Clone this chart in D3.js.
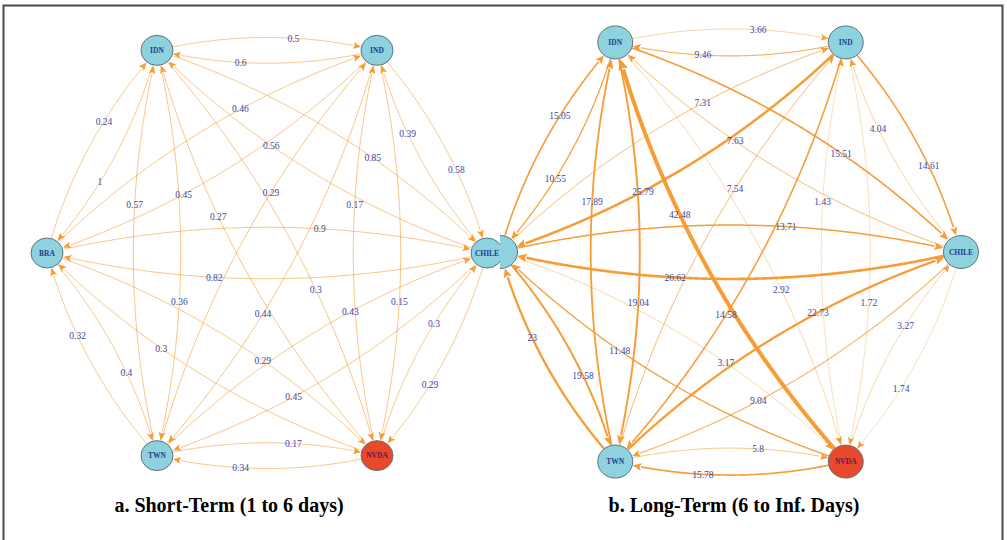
<!DOCTYPE html>
<html>
<head>
<meta charset="utf-8">
<script src="https://cdn.jsdelivr.net/npm/d3@7"></script>
<style>
body{margin:0;background:#fff;}
svg{display:block;}
</style>
</head>
<body>
<svg id="chart" width="1007" height="540"></svg>
<script>
// nodes and their angle on the circle layout (degrees)
const nodeNames = ["CHILE","IND","IDN","BRA","TWN","NVDA"];
const nodeAngles = [0,-60,-120,180,120,60];

// directed edges (from -> to)
const edgeFrom = ["IDN","IND","BRA","IDN","BRA","IND","IDN","CHILE","IDN","NVDA",
                  "IDN","TWN","IND","TWN","IND","NVDA","IND","CHILE","BRA","CHILE",
                  "BRA","NVDA","CHILE","TWN","CHILE","NVDA","TWN","NVDA","BRA","TWN"];
const edgeTo   = ["IND","IDN","IDN","BRA","IND","BRA","CHILE","IDN","NVDA","IDN",
                  "TWN","IDN","TWN","IND","NVDA","IND","CHILE","IND","CHILE","BRA",
                  "NVDA","BRA","TWN","CHILE","NVDA","CHILE","NVDA","TWN","TWN","BRA"];

const shortTermValues = [0.5,0.6,0.24,1,0.46,0.45,0.85,0.56,0.3,0.27,
                         0.36,0.57,0.44,0.29,0.15,0.17,0.58,0.39,0.9,0.82,
                         0.29,0.3,0.45,0.43,0.29,0.3,0.17,0.34,0.4,0.32];
const longTermValues  = [3.66,9.46,15.05,10.55,7.31,25.79,15.51,7.63,2.92,42.48,
                         19.04,17.89,14.58,7.54,1.72,1.43,14.61,4.04,13.71,26.62,
                         3.17,11.48,9.04,22.73,1.74,3.27,5.8,15.78,19.58,23];

const panelTitles = ["a. Short-Term (1 to 6 days)","b. Long-Term (6 to Inf. Days)"];

var svg = d3.select("#chart");

svg.append("defs").append("clipPath").attr("id","clipRight")
  .append("rect").attr("x",500).attr("y",0).attr("width",507).attr("height",540);

var panels = [
  {cx:267, rx:220, cy:253, ry:234, nrx:16, nry:15, values:shortTermValues,
   width:d3.scaleLinear().domain([0,1]).range([0.8,0.8]), titleX:229, clip:null},
  {cx:730.5, rx:230.5, cy:252, ry:242, nrx:17.5, nry:16.5, values:longTermValues,
   width:d3.scaleLinear().domain([0,45]).range([0.3,4.2]), titleX:734, clip:"url(#clipRight)"}
];

function bez(p0, c, p2, t){
  var u = 1 - t;
  return {x: u*u*p0.x + 2*t*u*c.x + t*t*p2.x, y: u*u*p0.y + 2*t*u*c.y + t*t*p2.y};
}

function inside(pt, n, p){
  var ax = (pt.x - n.x)/p.nrx, ay = (pt.y - n.y)/p.nry;
  return ax*ax + ay*ay < 1;
}

function drawPanel(p){
  var g = svg.append("g");
  if (p.clip) g.attr("clip-path", p.clip);

  var xs = d3.scaleLinear().domain([-1,1]).range([p.cx - p.rx, p.cx + p.rx]);
  var ys = d3.scaleLinear().domain([-1,1]).range([p.cy - p.ry, p.cy + p.ry]);

  var nodes = nodeNames.map((n,i)=>({
    name:n,
    x: xs(Math.cos(nodeAngles[i]*Math.PI/180)),
    y: ys(Math.sin(nodeAngles[i]*Math.PI/180))
  }));
  var byName = {};
  nodes.forEach(n=>byName[n.name]=n);

  var line = d3.line().x(d=>d.x).y(d=>d.y);

  var edges = edgeFrom.map((f,i)=>{
    var s = byName[f], t = byName[edgeTo[i]];
    var dx = t.x - s.x, dy = t.y - s.y;
    // control point bends the edge to its left side
    var c = {x:(s.x + t.x)/2 + 0.117*dy, y:(s.y + t.y)/2 - 0.117*dx};
    var sw = p.width(p.values[i]);
    var L = 7 + sw*0.9, hw = 3 + sw*0.5;

    var N = 400, t0 = 0, t1 = 1;
    for (var k=0;k<=N;k++){ if (!inside(bez(s,c,t,k/N), s, p)) { t0 = k/N; break; } }
    for (var k=N;k>=0;k--){ if (!inside(bez(s,c,t,k/N), t, p)) { t1 = k/N; break; } }
    var tip = bez(s,c,t,t1);
    var tb = t1;
    for (var k=Math.round(t1*N);k>=0;k--){
      var q = bez(s,c,t,k/N);
      if (Math.hypot(q.x-tip.x, q.y-tip.y) >= L) { tb = k/N; break; }
    }
    var pts = [];
    for (var k=Math.round(t0*N);k<=Math.round(tb*N);k++) pts.push(bez(s,c,t,k/N));
    var base = bez(s,c,t,tb);
    var ux = (tip.x-base.x), uy = (tip.y-base.y), ul = Math.hypot(ux,uy) || 1;
    ux/=ul; uy/=ul;
    var arrow = [tip,
      {x: base.x - uy*hw, y: base.y + ux*hw},
      {x: base.x + ux*1.5, y: base.y + uy*1.5},
      {x: base.x + uy*hw, y: base.y - ux*hw}];
    return {pts:pts, arrow:arrow, sw:sw, label:bez(s,c,t,0.62), value:p.values[i]};
  });

  g.selectAll(".edge").data(edges).join("path")
    .attr("class","edge")
    .attr("d", d=>line(d.pts))
    .attr("fill","none")
    .attr("stroke","#f6982c")
    .attr("stroke-opacity", d=>d.sw < 1.2 ? 0.75 : 0.95)
    .attr("stroke-width", d=>d.sw);

  g.selectAll(".arrow").data(edges).join("path")
    .attr("class","arrow")
    .attr("d", d=>line(d.arrow) + "Z")
    .attr("fill","#f6982c")
    .attr("fill-opacity",0.95);

  g.selectAll(".elabel").data(edges).join("text")
    .attr("class","elabel")
    .attr("x", d=>d.label.x)
    .attr("y", d=>d.label.y)
    .attr("dy","0.35em")
    .attr("text-anchor","middle")
    .attr("font-family","'Liberation Serif', serif")
    .attr("font-size","9.5px")
    .attr("fill","#3548a8")
    .text(d=>d.value);

  g.selectAll(".node").data(nodes).join("ellipse")
    .attr("class","node")
    .attr("cx", d=>d.x)
    .attr("cy", d=>d.y)
    .attr("rx", p.nrx)
    .attr("ry", p.nry)
    .attr("fill", d=>d.name==="NVDA" ? "#e8492a" : "#8ed1df")
    .attr("stroke","#5f7479")
    .attr("stroke-width",1);

  // the right panel's BRA label sits under the cut edge, so it is not shown
  g.selectAll(".nlabel").data(nodes.filter(d=>!p.clip || d.x > 510)).join("text")
    .attr("class","nlabel")
    .attr("x", d=>d.x)
    .attr("y", d=>d.y)
    .attr("dy","0.35em")
    .attr("text-anchor","middle")
    .attr("font-family","'Liberation Serif', serif")
    .attr("font-size","7.5px")
    .attr("font-weight","bold")
    .attr("fill", d=>d.name==="NVDA" ? "#6e1450" : "#1f3d8f")
    .text(d=>d.name);
}

panels.forEach(drawPanel);

svg.selectAll(".title").data(panels).join("text")
  .attr("class","title")
  .attr("x", d=>d.titleX)
  .attr("y", 512)
  .attr("text-anchor","middle")
  .attr("font-family","'Liberation Serif', serif")
  .attr("font-weight","bold")
  .attr("font-size","20px")
  .attr("fill","#000")
  .text((d,i)=>panelTitles[i]);

svg.append("rect")
  .attr("x",3.5).attr("y",5.5)
  .attr("width",999).attr("height",540)
  .attr("fill","none")
  .attr("stroke","#4a4a4a")
  .attr("stroke-width",2);
</script>
</body>
</html>
